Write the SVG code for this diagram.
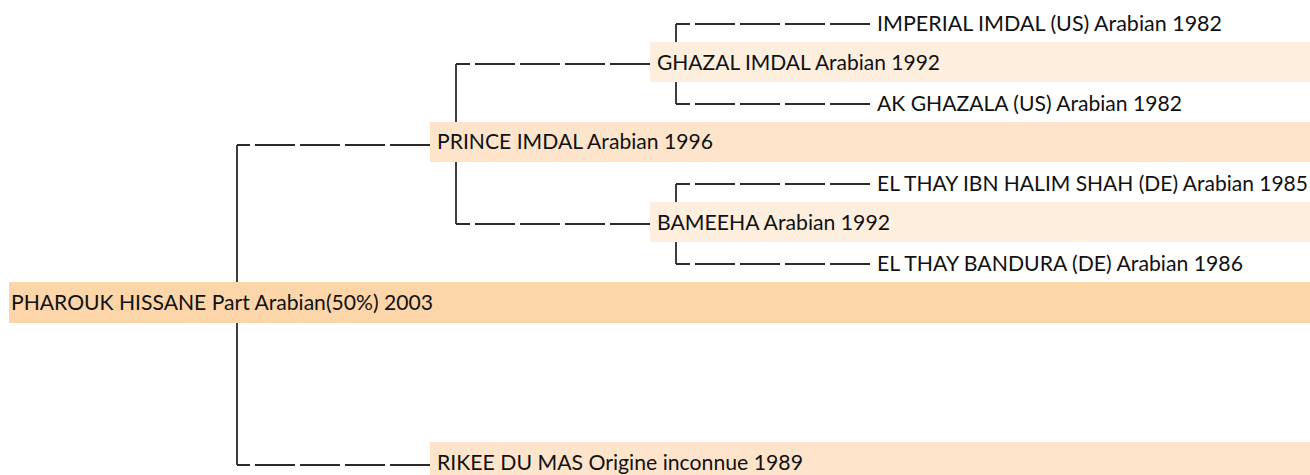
<svg xmlns="http://www.w3.org/2000/svg" width="1310" height="475" viewBox="0 0 1310 475">
<style>
.h{fill:none;stroke:#2a2a2a;stroke-width:1.8;stroke-dasharray:40 5}
.v{fill:none;stroke:#2a2a2a;stroke-width:1.8}
.b0{fill:#FCD5A9}
.b1{fill:#FDE4CA}
.b2{fill:#FEEEDE}
text{font-family:Lato,"Open Sans","Liberation Sans",sans-serif;font-size:21px;fill:#111}
</style>
<rect width="1310" height="475" fill="#ffffff"/>
<g id="connectors">
<path class="v" d="M237,145 V465"/>
<path class="h" d="M430,145 H237"/>
<path class="h" d="M430,465 H237"/>
<path class="v" d="M456,64 V224"/>
<path class="h" d="M650,64 H456"/>
<path class="h" d="M650,224 H456"/>
<path class="v" d="M676,24 V104"/>
<path class="h" d="M870,24 H676"/>
<path class="h" d="M870,104 H676"/>
<path class="v" d="M676,184 V264"/>
<path class="h" d="M870,184 H676"/>
<path class="h" d="M870,264 H676"/>
</g>
<g id="n-pharouk">
<rect class="b0" x="9" y="282" width="1301" height="41"/>
<text x="11" y="310" textLength="422" lengthAdjust="spacingAndGlyphs">PHAROUK HISSANE Part Arabian(50%) 2003</text>
</g>
<g id="n-prince">
<rect class="b1" x="430" y="122" width="880" height="40"/>
<text x="437" y="149" textLength="276" lengthAdjust="spacingAndGlyphs">PRINCE IMDAL Arabian 1996</text>
</g>
<g id="n-rikee">
<rect class="b1" x="430" y="442" width="880" height="40"/>
<text x="437" y="470" textLength="366" lengthAdjust="spacingAndGlyphs">RIKEE DU MAS Origine inconnue 1989</text>
</g>
<g id="n-ghazal">
<rect class="b2" x="650" y="42" width="660" height="40"/>
<text x="657" y="70" textLength="283" lengthAdjust="spacingAndGlyphs">GHAZAL IMDAL Arabian 1992</text>
</g>
<g id="n-bameeha">
<rect class="b2" x="650" y="202" width="660" height="40"/>
<text x="657" y="230" textLength="233" lengthAdjust="spacingAndGlyphs">BAMEEHA Arabian 1992</text>
</g>
<g id="n-imperial">
<text x="877" y="31" textLength="345" lengthAdjust="spacingAndGlyphs">IMPERIAL IMDAL (US) Arabian 1982</text>
</g>
<g id="n-akghazala">
<text x="877" y="111" textLength="305" lengthAdjust="spacingAndGlyphs">AK GHAZALA (US) Arabian 1982</text>
</g>
<g id="n-elthayibn">
<text x="877" y="191" textLength="431" lengthAdjust="spacingAndGlyphs">EL THAY IBN HALIM SHAH (DE) Arabian 1985</text>
</g>
<g id="n-bandura">
<text x="877" y="271" textLength="366" lengthAdjust="spacingAndGlyphs">EL THAY BANDURA (DE) Arabian 1986</text>
</g>
</svg>
